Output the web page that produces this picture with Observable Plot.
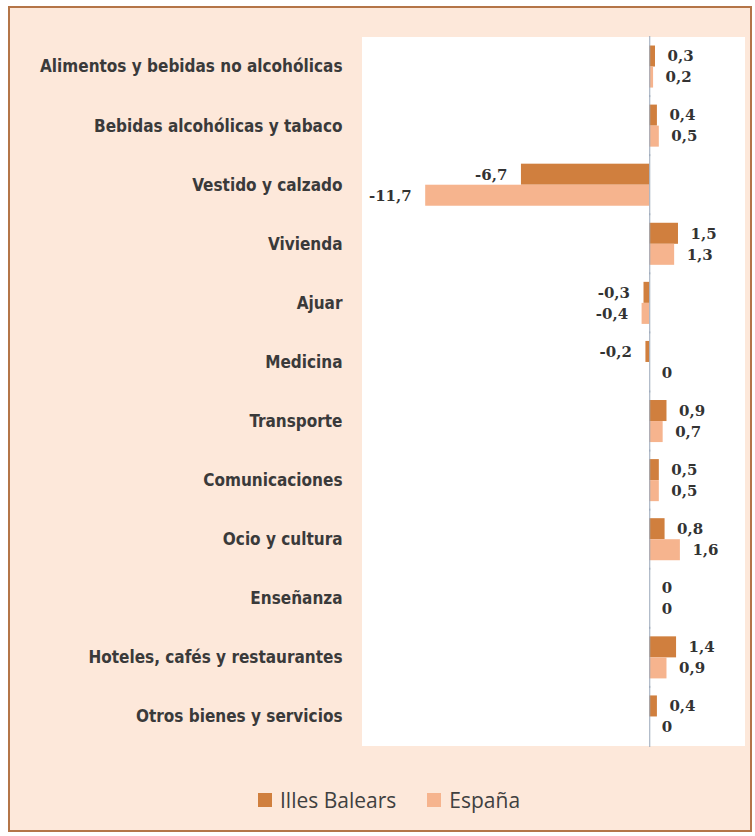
<!DOCTYPE html>
<html>
<head>
<meta charset="utf-8">
<script src="https://cdn.jsdelivr.net/npm/d3@7"></script>
<script src="https://cdn.jsdelivr.net/npm/@observablehq/plot@0.6"></script>
<style>
  html, body { margin: 0; padding: 0; background: #ffffff; }
  #frame {
    position: absolute; left: 8px; top: 6px; width: 740px; height: 822px;
    border: 2px solid #b47548; background: #fde8da;
  }
  #plotbg { position: absolute; left: 362px; top: 37px; width: 383px; height: 709px; background: #ffffff; }
  #chart { position: absolute; left: 0; top: 0; }
  #legend {
    position: absolute; left: 258px; top: 786px; display: flex; align-items: center;
    font-family: "Open Sans", sans-serif; font-size: 21px; color: #404040;
  }
  #legend .item { display: flex; align-items: center; margin-right: 31px; }
  #legend .sw { width: 14px; height: 14px; margin-right: 8px; }
</style>
</head>
<body>
<div id="frame"></div>
<div id="plotbg"></div>
<div id="chart"></div>
<div id="legend"></div>
<script>
const categories = [
  "Alimentos y bebidas no alcohólicas",
  "Bebidas alcohólicas y tabaco",
  "Vestido y calzado",
  "Vivienda",
  "Ajuar",
  "Medicina",
  "Transporte",
  "Comunicaciones",
  "Ocio y cultura",
  "Enseñanza",
  "Hoteles, cafés y restaurantes",
  "Otros bienes y servicios"
];
const illesBalears = [0.3, 0.4, -6.7, 1.5, -0.3, -0.2, 0.9, 0.5, 0.8, 0, 1.4, 0.4];
const espana = [0.2, 0.5, -11.7, 1.3, -0.4, 0, 0.7, 0.5, 1.6, 0, 0.9, 0];
const seriesNames = ["Illes Balears", "España"];
const seriesColors = ["#d07f3e", "#f6b48e"];

const data = categories.flatMap((c, i) => [
  {cat: c, serie: seriesNames[0], v: illesBalears[i]},
  {cat: c, serie: seriesNames[1], v: espana[i]}
]);
const fmt = v => String(v).replace(".", ",");

const plot = Plot.plot({
  width: 755,
  height: 760,
  marginLeft: 362,
  marginRight: 10,
  marginTop: 37,
  marginBottom: 14,
  style: {fontFamily: "DejaVu Serif", fontSize: "15px", background: "transparent", color: "#333"},
  x: {domain: [-15, 5], axis: null},
  fy: {domain: categories, padding: 0, label: null, round: false},
  y: {domain: seriesNames, paddingInner: 0, paddingOuter: 0.405, axis: null, round: false},
  color: {domain: seriesNames, range: seriesColors},
  marks: [
    Plot.barX(data, {x: "v", y: "serie", fy: "cat", fill: "serie"}),
    Plot.ruleX([0], {stroke: "#98a6b8", strokeWidth: 1, insetTop: -1, insetBottom: -1}),
    Plot.text(data.filter(d => d.v >= 0), {
      x: "v", y: "serie", fy: "cat", text: d => fmt(d.v),
      textAnchor: "start", dx: 12, fontWeight: "bold", fill: "#333"
    }),
    Plot.text(data.filter(d => d.v < 0), {
      x: "v", y: "serie", fy: "cat", text: d => fmt(d.v),
      textAnchor: "end", dx: -14, fontWeight: "bold", fill: "#333"
    }),
    Plot.axisFy({
      anchor: "left", tickSize: 0, tickPadding: 20, label: null,
      fontFamily: "DejaVu Sans Condensed", fontWeight: "bold", fontSize: 17, fill: "#3a3a3a"
    })
  ]
});
document.getElementById("chart").append(plot);

const legend = document.getElementById("legend");
seriesNames.forEach((name, i) => {
  const item = document.createElement("div");
  item.className = "item";
  const sw = document.createElement("div");
  sw.className = "sw";
  sw.style.background = seriesColors[i];
  const label = document.createElement("span");
  label.textContent = name;
  item.append(sw, label);
  legend.append(item);
});
</script>
</body>
</html>
